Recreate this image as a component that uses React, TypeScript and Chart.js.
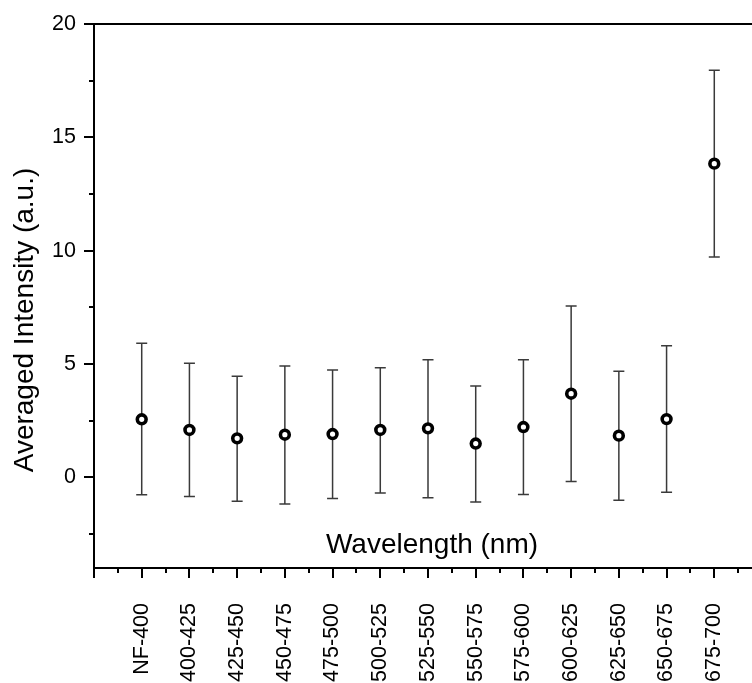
import React, { useEffect, useRef } from 'react';
import { Chart, registerables } from 'chart.js';

Chart.register(...registerables);

// ---- data ----
const categories = [
  'NF-400', '400-425', '425-450', '450-475', '475-500', '500-525', '525-550',
  '550-575', '575-600', '600-625', '625-650', '650-675', '675-700',
];
const meanValues = [2.56, 2.09, 1.72, 1.88, 1.91, 2.09, 2.16, 1.49, 2.22, 3.69, 1.84, 2.57, 13.84];
const upperValues = [5.92, 5.03, 4.46, 4.91, 4.74, 4.84, 5.19, 4.03, 5.19, 7.56, 4.68, 5.81, 17.96];
const lowerValues = [-0.77, -0.85, -1.06, -1.18, -0.93, -0.69, -0.9, -1.09, -0.76, -0.18, -1.01, -0.66, 9.72];
const yTickValues = [0, 5, 10, 15, 20];
const yMinorTickValues = [-2.5, 2.5, 7.5, 12.5, 17.5];
const yMin = -4;
const yMax = 20;
const xTitle = 'Wavelength (nm)';
const yTitle = 'Averaged Intensity (a.u.)';

const FONT = '"Liberation Sans", Arial, sans-serif';

const framePlugin = {
  id: 'originFrame',
  beforeDatasetsDraw(chart: any) {
    const { ctx, scales } = chart;
    const x = scales.x;
    const y = scales.y;
    ctx.save();
    ctx.strokeStyle = '#3a3a3a';
    ctx.lineWidth = 1.5;
    categories.forEach((_, i) => {
      const px = x.getPixelForValue(i);
      const top = y.getPixelForValue(upperValues[i]);
      const bot = y.getPixelForValue(lowerValues[i]);
      ctx.beginPath();
      ctx.moveTo(px, top);
      ctx.lineTo(px, bot);
      ctx.moveTo(px - 5.5, top);
      ctx.lineTo(px + 5.5, top);
      ctx.moveTo(px - 5.5, bot);
      ctx.lineTo(px + 5.5, bot);
      ctx.stroke();
    });
    ctx.restore();
  },
  afterDraw(chart: any) {
    const { ctx, chartArea, scales } = chart;
    const x = scales.x;
    const y = scales.y;
    const { left, right, top, bottom } = chartArea;
    ctx.save();
    ctx.strokeStyle = '#000';
    ctx.lineWidth = 2;
    ctx.lineCap = 'square';
    ctx.beginPath();
    ctx.moveTo(left, top);
    ctx.lineTo(right, top);
    ctx.lineTo(right, bottom);
    ctx.lineTo(left, bottom);
    ctx.closePath();
    ctx.stroke();

    ctx.lineCap = 'butt';
    ctx.beginPath();
    // x ticks
    for (let i = -1; i <= categories.length; i++) {
      const px = Math.round(x.getPixelForValue(i));
      ctx.moveTo(px, bottom);
      ctx.lineTo(px, bottom + 10);
      if (i < categories.length) {
        const mx = Math.round(x.getPixelForValue(i + 0.5));
        ctx.moveTo(mx, bottom);
        ctx.lineTo(mx, bottom + 5);
      }
    }
    // y ticks
    yTickValues.forEach((v) => {
      const py = Math.round(y.getPixelForValue(v));
      ctx.moveTo(left, py);
      ctx.lineTo(left - 10, py);
    });
    yMinorTickValues.forEach((v) => {
      const py = Math.round(y.getPixelForValue(v));
      ctx.moveTo(left, py);
      ctx.lineTo(left - 5, py);
    });
    ctx.stroke();

    // titles
    ctx.fillStyle = '#000';
    ctx.font = `28px ${FONT}`;
    ctx.textAlign = 'center';
    ctx.textBaseline = 'alphabetic';
    ctx.fillText(xTitle, (left + right) / 2 + 4, bottom - 15);

    ctx.translate(33, 320);
    ctx.rotate(-Math.PI / 2);
    ctx.fillText(yTitle, 0, 0);
    ctx.restore();
  },
};

export default function App() {
  const canvasRef = useRef<HTMLCanvasElement | null>(null);

  useEffect(() => {
    const canvas = canvasRef.current;
    if (!canvas) return;
    const points = categories.map((_, i) => ({ x: i, y: meanValues[i] }));
    const chart = new Chart(canvas, {
      type: 'scatter',
      data: {
        datasets: [
          {
            data: points,
            pointRadius: 4.4,
            pointBorderWidth: 3.6,
            borderColor: '#000',
            backgroundColor: '#fff',
            pointBackgroundColor: '#fff',
            pointBorderColor: '#000',
            showLine: false,
          },
          {
            data: points,
            pointRadius: 1.2,
            pointBorderWidth: 0,
            pointBackgroundColor: '#000',
            backgroundColor: '#000',
            borderColor: '#000',
            showLine: false,
          },
        ],
      },
      options: {
        animation: false,
        responsive: false,
        devicePixelRatio: 1,
        layout: { padding: { top: 24, right: 8, left: 0, bottom: 0 } },
        plugins: { legend: { display: false }, tooltip: { enabled: false } },
        scales: {
          x: {
            type: 'linear',
            min: -1,
            max: categories.length,
            grid: { display: false, drawTicks: false },
            border: { display: false },
            afterBuildTicks: (s: any) => {
              s.ticks = categories.map((_, i) => ({ value: i }));
            },
            afterFit: (s: any) => {
              s.height = 115;
              s.paddingLeft = 0;
              s.paddingRight = 0;
            },
            ticks: {
              autoSkip: false,
              minRotation: 90,
              maxRotation: 90,
              padding: 35,
              color: '#000',
              font: { family: FONT, size: 21.5 },
              callback: (v: any) => categories[v] ?? '',
            },
          },
          y: {
            type: 'linear',
            min: yMin,
            max: yMax,
            grid: { display: false, drawTicks: false },
            border: { display: false },
            afterBuildTicks: (s: any) => {
              s.ticks = yTickValues.map((v) => ({ value: v }));
            },
            afterFit: (s: any) => {
              s.width = 94;
              s.paddingTop = 0;
              s.paddingBottom = 0;
            },
            ticks: {
              padding: 18,
              color: '#000',
              font: { family: FONT, size: 21.5 },
              callback: (v: any) => String(v),
            },
          },
        },
      } as any,
      plugins: [framePlugin],
    });
    return () => chart.destroy();
  }, []);

  return (
    <div
      style={{
        position: 'absolute',
        left: 0,
        top: 0,
        width: 752,
        height: 683,
        overflow: 'hidden',
        background: '#fff',
      }}
    >
      <canvas ref={canvasRef} width={770} height={683} style={{ display: 'block' }} />
    </div>
  );
}
